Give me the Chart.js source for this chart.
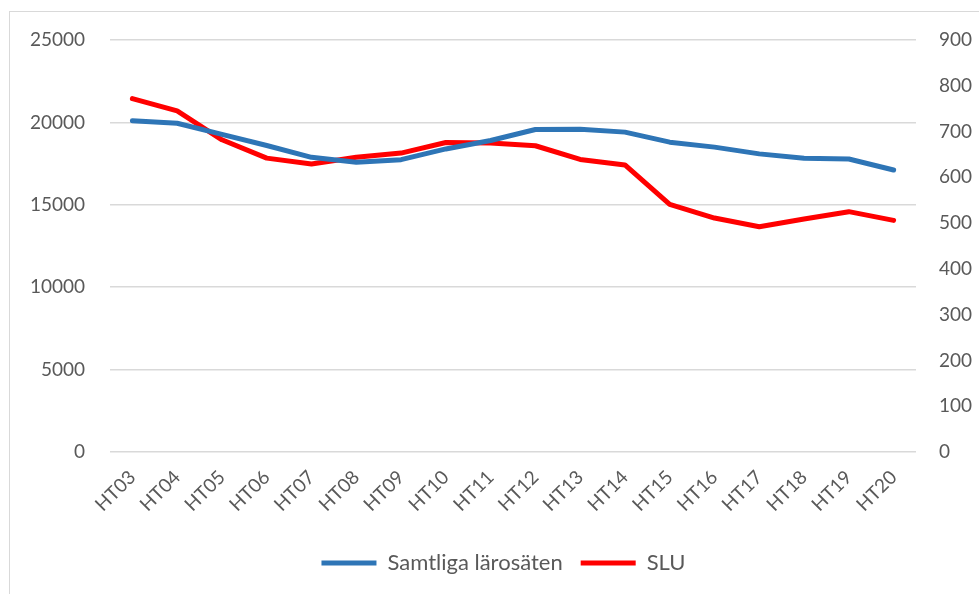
<!DOCTYPE html>
<html>
<head>
<meta charset="utf-8">
<script src="https://cdn.jsdelivr.net/npm/chart.js@4"></script>
<style>
  html, body { margin: 0; padding: 0; background: #fff; overflow: hidden; }
  #wrap { position: relative; width: 979px; height: 594px; }
  #frame {
    position: absolute; left: 9px; top: 11px; width: 1100px; height: 700px;
    border: 1px solid #d9d9d9; box-sizing: border-box;
  }
  #chart { position: absolute; left: 0; top: 0; }
</style>
</head>
<body>
<div id="wrap">
  <div id="frame"></div>
  <canvas id="chart" width="979" height="594"></canvas>
</div>
<script>
const terms = ["HT03", "HT04", "HT05", "HT06", "HT07", "HT08", "HT09", "HT10", "HT11",
  "HT12", "HT13", "HT14", "HT15", "HT16", "HT17", "HT18", "HT19", "HT20"];
// left axis
const allInstitutions = [20100, 19950, 19270, 18600, 17880, 17580, 17740, 18390, 18900,
  19570, 19580, 19410, 18800, 18500, 18090, 17820, 17780, 17110];
// right axis
const slu = [772, 745, 682, 642, 629, 644, 653, 676, 675,
  669, 639, 627, 541, 511, 492, 509, 525, 506];
const leftTicks = [0, 5000, 10000, 15000, 20000, 25000];
const rightTicks = [0, 100, 200, 300, 400, 500, 600, 700, 800, 900];

const textColor = "#595959";
const font = { family: "Lato, 'Open Sans', sans-serif", size: 19 };

const padLeft = 28;
const areaLeft = 110, areaRight = 916;

const ctx = document.getElementById("chart");
new Chart(ctx, {
  type: "line",
  data: {
    labels: terms,
    datasets: [
      {
        label: "Samtliga lärosäten",
        data: allInstitutions,
        yAxisID: "y",
        borderColor: "#2e75b6",
        backgroundColor: "#2e75b6",
        borderWidth: 5,
        borderCapStyle: "round",
        borderJoinStyle: "round",
        pointRadius: 0,
        tension: 0,
      },
      {
        label: "SLU",
        data: slu,
        yAxisID: "y1",
        borderColor: "#ff0000",
        backgroundColor: "#ff0000",
        borderWidth: 5,
        borderCapStyle: "round",
        borderJoinStyle: "round",
        pointRadius: 0,
        tension: 0,
      },
    ],
  },
  options: {
    responsive: false,
    animation: false,
    layout: { padding: { left: padLeft, right: 0, top: 40, bottom: 10 } },
    plugins: {
      tooltip: { enabled: false },
      legend: {
        position: "bottom",
        labels: {
          usePointStyle: true,
          pointStyle: "line",
          pointStyleWidth: 55,
          boxHeight: 5,
          padding: 18,
          color: textColor,
          font: { family: font.family, size: 22 },
        },
      },
    },
    scales: {
      x: {
        offset: true,
        grid: { display: false },
        border: { display: false },
        ticks: {
          color: textColor,
          font,
          minRotation: 45,
          maxRotation: 45,
          padding: 6,
          autoSkip: false,
        },
        afterFit(scale) {
          scale.height = 82;
        },
      },
      y: {
        position: "left",
        min: 0,
        max: 25000,
        afterBuildTicks(scale) {
          scale.ticks = leftTicks.map((v) => ({ value: v }));
        },
        grid: { color: "#d9d9d9", lineWidth: 1.5, drawTicks: false },
        border: { display: false },
        ticks: {
          color: textColor,
          font,
          padding: 25,
          callback: (v) => String(v),
        },
        afterFit(scale) {
          scale.width = areaLeft - padLeft;
        },
      },
      y1: {
        position: "right",
        min: 0,
        max: 900,
        afterBuildTicks(scale) {
          scale.ticks = rightTicks.map((v) => ({ value: v }));
        },
        grid: { display: false, drawTicks: false },
        border: { display: false },
        ticks: {
          color: textColor,
          font,
          padding: 23,
          callback: (v) => String(v),
        },
        afterFit(scale) {
          scale.width = 979 - areaRight;
        },
      },
    },
  },
});
</script>
</body>
</html>
